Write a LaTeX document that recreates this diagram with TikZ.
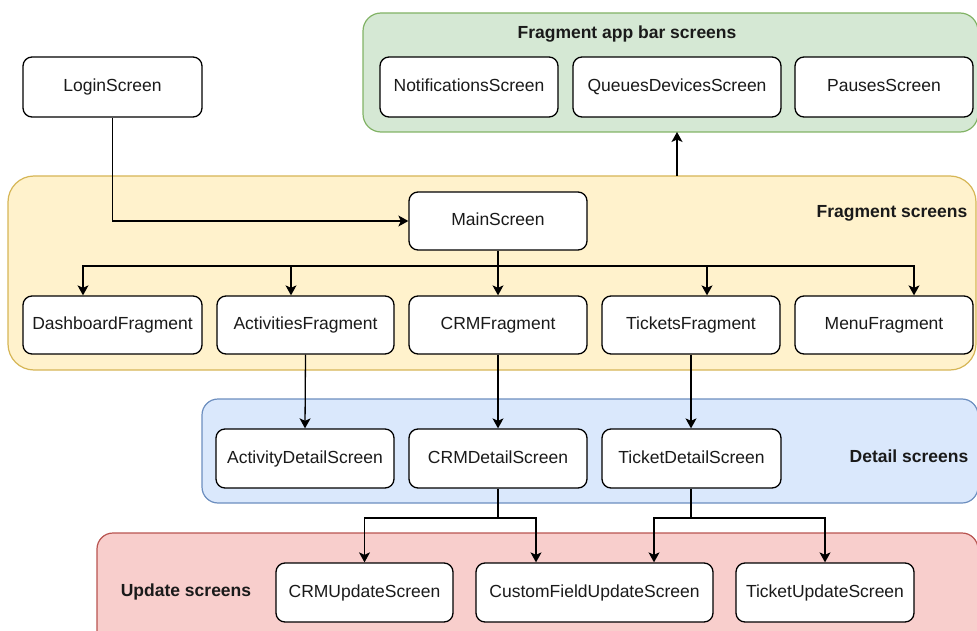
\documentclass[tikz,border=0pt]{standalone}
\usepackage{fontspec}
\setmainfont{Liberation Sans}
\usetikzlibrary{arrows.meta}
\definecolor{gfill}{HTML}{D5E8D4}\definecolor{gline}{HTML}{82B366}
\definecolor{yfill}{HTML}{FFF2CC}\definecolor{yline}{HTML}{D6B656}
\definecolor{bfill}{HTML}{DAE8FC}\definecolor{bline}{HTML}{6C8EBF}
\definecolor{rfill}{HTML}{F8CECC}\definecolor{rline}{HTML}{B85450}
\definecolor{txt}{HTML}{1A1A1A}
\tikzset{
  screen/.style={draw=black, fill=white, rounded corners=9pt, line width=1.3pt,
    minimum height=59pt, minimum width=178pt, inner sep=0pt, text=txt,
    text height=12.6pt, text depth=3.6pt,
    font=\fontsize{17.5}{21}\selectfont},
  group/.style={rounded corners=#1, line width=1.2pt},
  grouplabel/.style={font=\bfseries\fontsize{17.5}{21}\selectfont, text=txt, inner sep=0pt,
    text height=12.6pt, text depth=3.6pt},
  arr/.style={line width=1.3pt, -{Stealth[length=10pt,width=11pt,inset=2.5pt]}},
  ln/.style={line width=1.3pt}
}
\begin{document}
\begin{tikzpicture}[x=1pt,y=-1pt]
\useasboundingbox (0,0) rectangle (977,631);
% containers
\draw[group=18pt, fill=gfill, draw=gline] (363,13) rectangle (978,132);
\draw[group=26pt, fill=yfill, draw=yline] (8,176) rectangle (976,370);
\draw[group=16pt, fill=bfill, draw=bline] (202,399) rectangle (978,503);
\draw[group=16pt, fill=rfill, draw=rline] (97,533) rectangle (978,660);
\coordinate (gbot) at (677,132);
\coordinate (ytop) at (677,176);
% group labels
\node[grouplabel] (glab) at (627,34) {Fragment app bar screens};
\node[grouplabel] (ylab) at (892,213) {Fragment screens};
\node[grouplabel] (blab) at (909,458) {Detail screens};
\node[grouplabel] (rlab) at (186,592) {Update screens};
% screens
\node[screen, minimum width=179pt, minimum height=60pt] (login) at (112.5,87) {LoginScreen};
\node[screen, minimum height=60pt] (notif) at (469,87) {NotificationsScreen};
\node[screen, minimum width=208pt, minimum height=60pt] (queues) at (677,87) {QueuesDevicesScreen};
\node[screen, minimum height=60pt] (pauses) at (884,87) {PausesScreen};
\node[screen, minimum height=58pt] (main) at (498,221) {MainScreen};
\node[screen, minimum width=179pt, minimum height=58pt] (dash) at (112.5,325) {DashboardFragment};
\node[screen, minimum width=177pt, minimum height=58pt] (act) at (305.5,325) {ActivitiesFragment};
\node[screen, minimum height=58pt] (crm) at (498,325) {CRMFragment};
\node[screen, minimum height=58pt] (tick) at (691,325) {TicketsFragment};
\node[screen, minimum height=58pt] (menu) at (884,325) {MenuFragment};
\node[screen] (actd) at (305,458.5) {ActivityDetailScreen};
\node[screen] (crmd) at (498,458.5) {CRMDetailScreen};
\node[screen, minimum width=179pt] (tickd) at (691.5,458.5) {TicketDetailScreen};
\node[screen, minimum width=177pt] (crmu) at (364.5,592.5) {CRMUpdateScreen};
\node[screen, minimum width=237pt] (cfu) at (594.5,592.5) {CustomFieldUpdateScreen};
\node[screen] (ticku) at (825,592.5) {TicketUpdateScreen};
% connectors
\draw[arr] (login.south) |- (main.west);
\draw[arr] (ytop) -- (gbot);
\coordinate (busM) at (498,266);
\draw[ln] (main.south) -- (busM);
\draw[arr] (busM) -| ([xshift=-29.5pt]dash.north);
\draw[arr] (busM) -| ([xshift=-14.5pt]act.north);
\draw[arr] (busM) -- (crm.north);
\draw[arr] (busM) -| ([xshift=16pt]tick.north);
\draw[arr] (busM) -| ([xshift=30pt]menu.north);
\draw[arr] (act.south) -- (actd.north);
\draw[arr] (crm.south) -- (crmd.north);
\draw[arr] (tick.south) -- (tickd.north -| tick.south);
\coordinate (busC) at (498,518);
\coordinate (busT) at (691,518);
\draw[ln] (crmd.south) -- (busC);
\draw[arr] (busC) -| (crmu.north);
\draw[arr] (busC) -| ([xshift=-58.5pt]cfu.north);
\draw[ln] (tickd.south -| busT) -- (busT);
\draw[arr] (busT) -| ([xshift=59.5pt]cfu.north);
\draw[arr] (busT) -| (ticku.north);
\end{tikzpicture}
\end{document}
